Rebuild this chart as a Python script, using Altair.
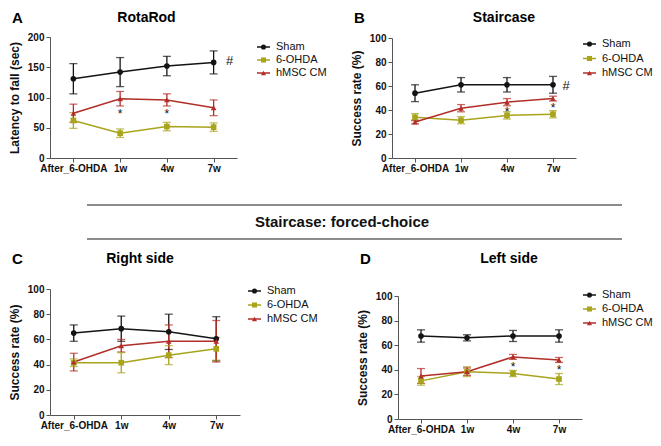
import altair as alt
import pandas as pd

FONT = "Liberation Sans"

categories = ["After_6-OHDA", "1w", "4w", "7w"]
groups = ["Sham", "6-OHDA", "hMSC CM"]
group_colors = ["#141414", "#a8a41c", "#b22e28"]
group_shapes = ["circle", "square", "triangle-up"]

# A: RotaRod
rotarod_sham = [131, 142, 152, 158]
rotarod_sham_err = [25, 24, 16, 19]
rotarod_6ohda = [62, 41, 52, 51]
rotarod_6ohda_err = [13, 7, 7, 7]
rotarod_hmsc = [74, 98, 96, 83]
rotarod_hmsc_err = [15, 12, 10, 13]
rotarod_star_times = ["1w", "4w"]
rotarod_star_values = [77, 77]
rotarod_hash_time = "7w"
rotarod_hash_value = 160

# B: Staircase
stair_sham = [54, 61, 61, 61]
stair_sham_err = [7, 6, 6, 7]
stair_6ohda = [34, 31.5, 35.5, 36.5]
stair_6ohda_err = [3, 3, 3, 3]
stair_hmsc = [30, 41.5, 46.5, 49.5]
stair_hmsc_err = [1.5, 3, 3, 2]
stair_star_times = ["4w", "7w"]
stair_star_values = [41, 44.5]
stair_hash_time = "7w"
stair_hash_value = 60

# C: forced-choice, right side
right_sham = [65, 68.5, 66, 60.5]
right_sham_err = [6.5, 10, 14, 17.5]
right_6ohda = [41.5, 41.5, 47.5, 52.5]
right_6ohda_err = [3, 8, 7.5, 9]
right_hmsc = [42, 55, 58.5, 58.5]
right_hmsc_err = [7, 5, 13, 16.5]

# D: forced-choice, left side
left_sham = [67.5, 66, 67.5, 67.5]
left_sham_err = [5, 2.5, 4.5, 5]
left_6ohda = [31, 38.5, 37, 32.5]
left_6ohda_err = [3.5, 4, 2.5, 4.5]
left_hmsc = [35, 38.5, 50.5, 48]
left_hmsc_err = [6, 3, 2, 2]
left_star_times = ["4w", "7w"]
left_star_values = [45, 42]

section_title = "Staircase: forced-choice"


def make_df(means_by_group, errs_by_group):
    rows = []
    for g, means, errs in zip(groups, means_by_group, errs_by_group):
        for i, (t, m, e) in enumerate(zip(categories, means, errs)):
            rows.append({"time": t, "idx": i, "group": g, "mean": m,
                         "low": m - e, "high": m + e})
    return pd.DataFrame(rows)


def panel(df, letter, title, ytitle, ymax, ystep, width, height,
          title_dx, title_y, legend_dx, legend_y, legend_step,
          star_times=None, star_values=None, hash_time=None, hash_value=None,
          hash_dx=14, top_gap=0):
    cscale = alt.Scale(domain=groups, range=group_colors)
    col = alt.Color("group:N", scale=cscale, legend=None)
    xaxis = alt.Axis(title=None, labelAngle=0, labelFont=FONT, labelFontSize=10,
                     labelFontWeight="bold", labelColor="#111", domainColor="#555",
                     tickColor="#555", tickSize=4, labelPadding=1, grid=False)
    x = alt.X("time:N", scale=alt.Scale(type="point", domain=categories, padding=0.5),
              axis=xaxis)
    yscale = alt.Scale(domain=[0, ymax], nice=False, zero=True,
                       range=[height, top_gap])
    yaxis = alt.Axis(title=ytitle, values=list(range(0, ymax + 1, ystep)),
                     titleFont=FONT, titleFontSize=12, titleFontWeight="bold",
                     titleColor="#111", titlePadding=6, labelFont=FONT,
                     labelFontSize=10, labelFontWeight="bold", labelColor="#111",
                     domainColor="#555", tickColor="#555", tickSize=4,
                     labelPadding=2, grid=False)

    def Y(field):
        return alt.Y(field + ":Q", scale=yscale, axis=yaxis)

    base = alt.Chart(df)
    layers = [
        base.mark_rule(strokeWidth=1.3).encode(x=x, y=Y("low"), y2="high:Q", color=col),
        base.mark_tick(size=8, thickness=1.3).encode(x=x, y=Y("low"), color=col),
        base.mark_tick(size=8, thickness=1.3).encode(x=x, y=Y("high"), color=col),
        base.mark_line(strokeWidth=1.5).encode(
            x=x, y=Y("mean"), color=col, order=alt.Order("idx:Q")),
    ]
    for g, shp in zip(groups, group_shapes):
        layers.append(base.transform_filter(alt.datum.group == g).mark_point(
            filled=True, size=32, opacity=1, shape=shp).encode(
            x=x, y=Y("mean"), color=col))

    if star_times:
        sdf = pd.DataFrame({"time": star_times, "val": star_values})
        layers.append(alt.Chart(sdf).mark_text(
            text="*", fontSize=12, font=FONT, color="#111", dy=3).encode(
            x=x, y=Y("val")))
    if hash_time:
        hdf = pd.DataFrame({"time": [hash_time], "val": [hash_value]})
        layers.append(alt.Chart(hdf).mark_text(
            text="#", fontSize=13, font=FONT, color="#111", dx=hash_dx).encode(
            x=x, y=Y("val")))

    lab = pd.DataFrame({"letter": [letter], "title": [title]})
    layers.append(alt.Chart(lab).mark_text(
        fontSize=15, fontWeight="bold", font=FONT, color="#000", align="left",
        baseline="middle").encode(x=alt.value(-38), y=alt.value(title_y),
                                  text="letter:N"))
    layers.append(alt.Chart(lab).mark_text(
        fontSize=14, fontWeight="bold", font=FONT, color="#000", align="center",
        baseline="middle").encode(x=alt.value(width / 2 + title_dx),
                                  y=alt.value(title_y), text="title:N"))
    main = alt.layer(*layers)

    # legend drawn as marks: a short line with the marker, then the label
    ldf = pd.DataFrame({"group": groups, "row": list(range(len(groups)))})
    lx = width + legend_dx
    ly = alt.Y("row:Q", axis=None,
               scale=alt.Scale(domain=[0, len(groups) - 1], nice=False, zero=False,
                               range=[legend_y, legend_y + legend_step * (len(groups) - 1)]))
    lbase = alt.Chart(ldf)
    leg_layers = [lbase.mark_rule(strokeWidth=1.5).encode(
        x=alt.value(lx), x2=alt.value(lx + 13), y=ly, color=col)]
    for g, shp in zip(groups, group_shapes):
        leg_layers.append(lbase.transform_filter(alt.datum.group == g).mark_point(
            filled=True, size=26, opacity=1, shape=shp).encode(
            x=alt.value(lx + 6.5), y=ly, color=col))
    leg_layers.append(lbase.mark_text(
        fontSize=11, font=FONT, color="#111", align="left",
        baseline="middle").encode(x=alt.value(lx + 19), y=ly, text="group:N"))
    leg = alt.layer(*leg_layers)

    return alt.layer(main, leg).resolve_scale(y="independent").properties(
        width=width, height=height)


A = panel(make_df([rotarod_sham, rotarod_6ohda, rotarod_hmsc],
                  [rotarod_sham_err, rotarod_6ohda_err, rotarod_hmsc_err]),
          "A", "RotaRod", "Latency to fall (sec)", 200, 50, 187, 121,
          3, -19, 20, 10, 13, rotarod_star_times, rotarod_star_values,
          rotarod_hash_time, rotarod_hash_value, 16)
B = panel(make_df([stair_sham, stair_6ohda, stair_hmsc],
                  [stair_sham_err, stair_6ohda_err, stair_hmsc_err]),
          "B", "Staircase", "Success rate (%)", 100, 20, 184, 121,
          20, -19, 7, 7, 14.5, stair_star_times, stair_star_values,
          stair_hash_time, stair_hash_value, 13, top_gap=1)
C = panel(make_df([right_sham, right_6ohda, right_hmsc],
                  [right_sham_err, right_6ohda_err, right_hmsc_err]),
          "C", "Right side", "Success rate (%)", 100, 20, 190, 126,
          -5, -30, 8, 2, 14)
D = panel(make_df([left_sham, left_6ohda, left_hmsc],
                  [left_sham_err, left_6ohda_err, left_hmsc_err]),
          "D", "Left side", "Success rate (%)", 100, 20, 184, 130,
          19, -30, 1, 6, 14, left_star_times, left_star_values, top_gap=7)

mid_df = pd.DataFrame({"label": [section_title]})
mid_base = alt.Chart(mid_df)
rule1 = mid_base.mark_rule(color="#666", strokeWidth=1.5).encode(
    x=alt.value(37), x2=alt.value(572), y=alt.value(32))
rule2 = mid_base.mark_rule(color="#666", strokeWidth=1.5).encode(
    x=alt.value(37), x2=alt.value(572), y=alt.value(66))
mid_txt = mid_base.mark_text(fontSize=15, fontWeight="bold", font=FONT,
                             color="#111").encode(
    x=alt.value(292), y=alt.value(49), text="label:N")
mid = alt.layer(rule1, rule2, mid_txt).properties(width=572, height=79)

row1 = alt.hconcat(A, B, spacing=23)
row2 = alt.hconcat(C, D, spacing=38)

chart = alt.vconcat(row1, mid, row2, spacing=0).properties(
    padding={"top": 3, "left": 0, "right": 0, "bottom": 2},
    background="white").configure_view(stroke=None)

chart.save("out.html", embed_options={"renderer": "svg", "actions": False})
